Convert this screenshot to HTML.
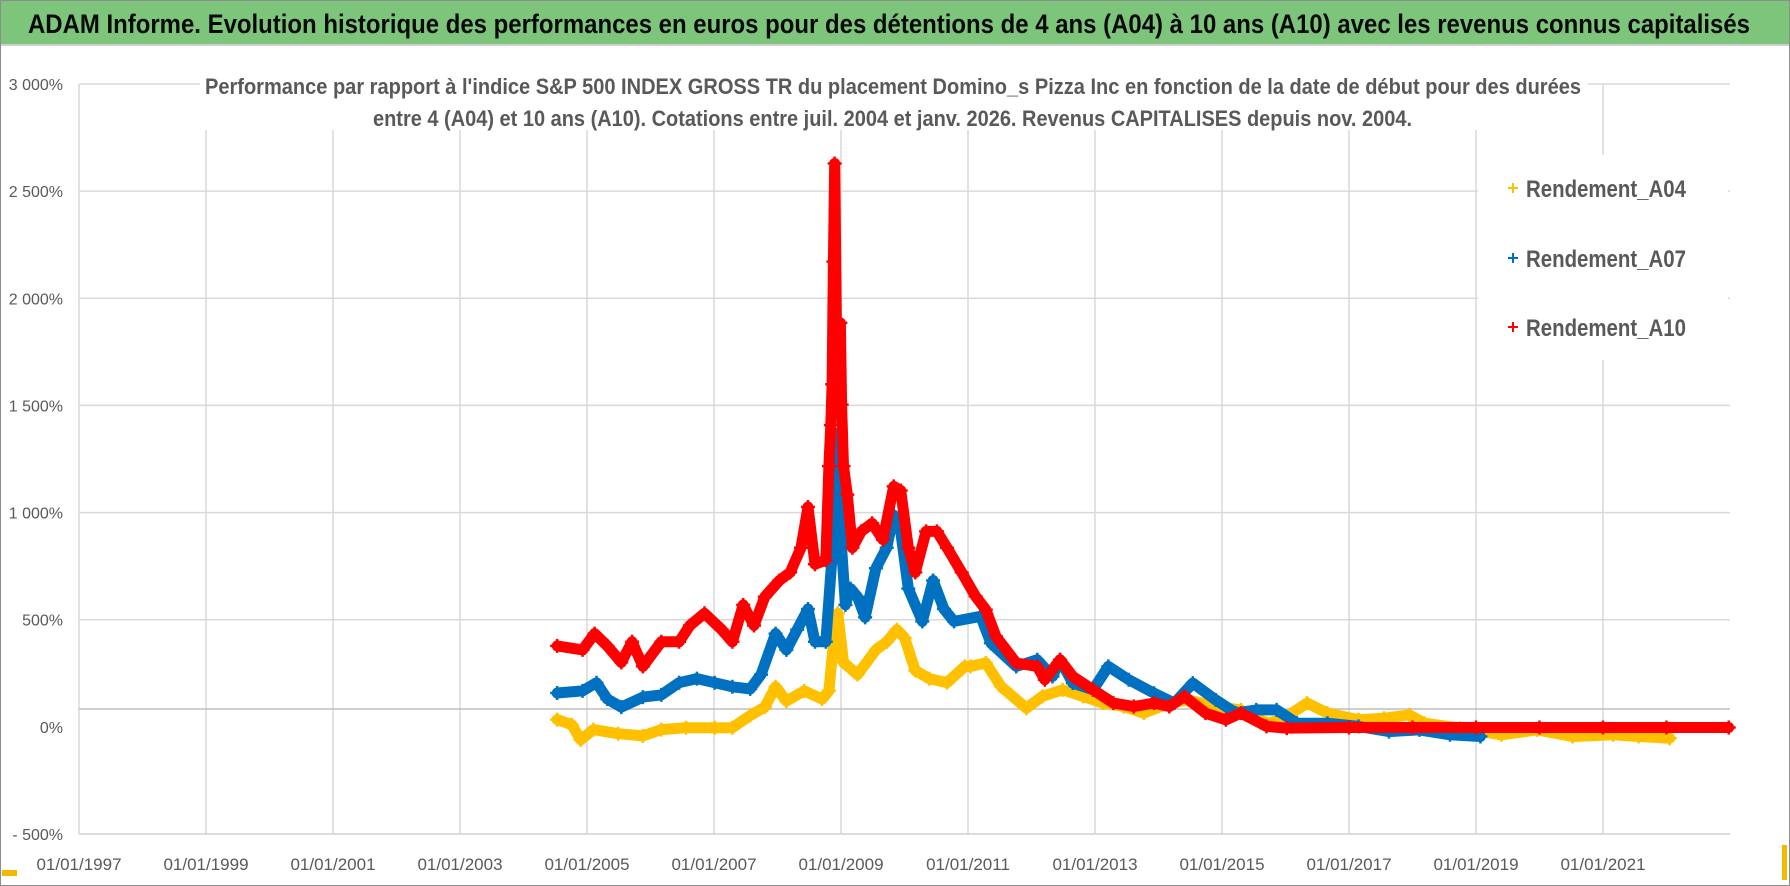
<!DOCTYPE html>
<html><head><meta charset="utf-8">
<style>
html,body{margin:0;padding:0;background:#fff;}
svg{display:block;font-family:"Liberation Sans",sans-serif;}
</style></head>
<body>
<svg id="chart" width="1790" height="886" viewBox="0 0 1790 886" xmlns="http://www.w3.org/2000/svg">
  <rect x="0.5" y="0.5" width="1789" height="885" fill="#fff" stroke="#8c8c8c"/>
  <rect x="1" y="1" width="1788" height="43" fill="#7dc57b"/>
  <line x1="1" y1="45" x2="1789" y2="45" stroke="#d0d0d0" stroke-width="2"/>
  <text x="28" y="33" font-size="27" font-weight="bold" fill="#0a0a0a" textLength="1722" lengthAdjust="spacingAndGlyphs">ADAM Informe. Evolution historique des performances en euros pour des détentions de 4 ans (A04) à 10 ans (A10) avec les revenus connus capitalisés</text>
  <rect x="2" y="870" width="15" height="6" fill="#f4b800"/>
  <rect x="1782" y="845" width="5" height="35" fill="#f4b800"/>
  <g id="grid"></g>
  <g id="axes"></g>
  <g id="series"></g>
  <rect x="200" y="70" width="1388" height="60" fill="#fff"/>
  <text x="205" y="94" font-size="22" font-weight="bold" fill="#595959" textLength="1376" lengthAdjust="spacingAndGlyphs">Performance par rapport à l'indice S&amp;P 500 INDEX GROSS TR  du placement Domino_s Pizza Inc en fonction de la date de début pour des durées</text>
  <text x="373" y="126" font-size="22" font-weight="bold" fill="#595959" textLength="1039" lengthAdjust="spacingAndGlyphs">entre 4 (A04) et 10 ans (A10).  Cotations entre juil. 2004 et janv. 2026. Revenus CAPITALISES depuis nov. 2004.</text>
  <g id="legend"></g>
</svg>
<script>
const yearsA04 = [2004.53,2004.76,2004.90,2005.10,2005.49,2005.88,2006.17,2006.56,2007.01,2007.29,2007.57,2007.80,2007.97,2008.14,2008.42,2008.70,2008.81,2008.90,2008.95,2009.04,2009.26,2009.55,2009.72,2009.88,2010.00,2010.17,2010.39,2010.67,2010.95,2011.04,2011.28,2011.52,2011.92,2012.17,2012.49,2012.81,2013.13,2013.45,2013.77,2014.17,2014.47,2014.90,2015.30,2015.70,2015.94,2016.34,2016.66,2017.15,2017.55,2017.95,2018.19,2018.75,2019.40,2019.96,2020.52,2021.16,2021.56,2022.05];
const valuesA04 = [34,10,-61,-13,-32,-42,-13,-4,-4,-4,53,92,187,120,168,130,168,454,530,301,244,359,397,454,416,263,225,206,282,282,298,189,87,142,173,142,111,95,64,111,126,95,79,17,33,111,64,33,40,56,17,-6,-37,-14,-45,-37,-45,-53];
const yearsA07 = [2004.53,2004.93,2005.15,2005.32,2005.54,2005.88,2006.17,2006.45,2006.73,2007.01,2007.29,2007.57,2007.74,2007.97,2008.14,2008.31,2008.48,2008.59,2008.76,2008.87,2008.90,2008.95,2009.01,2009.07,2009.15,2009.26,2009.38,2009.55,2009.72,2009.83,2009.94,2010.06,2010.28,2010.45,2010.62,2010.78,2011.20,2011.36,2011.76,2012.09,2012.33,2012.45,2012.65,2012.97,2013.21,2013.53,2013.93,2014.25,2014.54,2014.90,2015.22,2015.54,2015.86,2016.18,2016.66,2017.15,2017.63,2018.11,2018.59,2019.07];
const valuesA07 = [158,168,206,130,92,139,149,206,225,206,187,177,244,435,359,454,550,397,397,836,1370,1026,836,569,645,607,511,740,836,988,912,645,492,683,550,492,516,391,282,313,235,313,204,173,282,220,157,111,204,126,64,79,79,17,17,2,-22,-14,-37,-45];
const yearsA10 = [2004.53,2004.93,2005.12,2005.32,2005.54,2005.71,2005.88,2006.17,2006.45,2006.62,2006.85,2007.12,2007.29,2007.46,2007.63,2007.80,2008.03,2008.20,2008.37,2008.48,2008.59,2008.76,2008.81,2008.84,2008.86,2008.88,2008.90,2008.93,2008.99,2009.01,2009.04,2009.10,2009.18,2009.32,2009.49,2009.66,2009.83,2009.94,2010.06,2010.17,2010.34,2010.51,2010.67,2010.90,2011.12,2011.28,2011.44,2011.76,2012.09,2012.21,2012.45,2012.65,2012.97,2013.29,2013.61,2013.93,2014.17,2014.41,2014.74,2015.06,2015.30,2015.70,2016.02,2017.0,2018.0,2019.0,2020.0,2021.0,2022.0,2022.98];
const valuesA10 = [378,359,435,378,301,397,282,397,397,473,530,454,397,569,473,607,683,721,836,1026,759,778,1217,1408,1599,2171,2629,1790,1885,1504,1217,1084,836,912,950,874,1122,1103,836,721,912,912,836,721,609,547,422,298,282,220,313,235,173,111,95,111,95,142,64,33,64,2,-6,-3,-3,-3,-3,-3,-3,-3];
const yTicks = [3000,2500,2000,1500,1000,500,0,-500];
const yTickLabels = ["3 000%","2 500%","2 000%","1 500%","1 000%","500%","0%","- 500%"];
const xTicks = [1997,1999,2001,2003,2005,2007,2009,2011,2013,2015,2017,2019,2021];
const xTickLabels = ["01/01/1997","01/01/1999","01/01/2001","01/01/2003","01/01/2005","01/01/2007","01/01/2009","01/01/2011","01/01/2013","01/01/2015","01/01/2017","01/01/2019","01/01/2021"];
const seriesNames = ["Rendement_A04","Rendement_A07","Rendement_A10"];

const NS = "http://www.w3.org/2000/svg";
const X0 = 79, X1 = 1730, XMIN = 1997, XMAX = 2023;
const Y0 = 834, Y1 = 84, VMIN = -500, VMAX = 3000;
function xs(yr){ return X0 + (yr - XMIN) / (XMAX - XMIN) * (X1 - X0); }
function ys(v){ return Y0 - (v - VMIN) / (VMAX - VMIN) * (Y0 - Y1); }
function mk(tag, attrs, parent){ const e = document.createElementNS(NS, tag); for (const k in attrs) e.setAttribute(k, attrs[k]); parent.appendChild(e); return e; }

const grid = document.getElementById('grid');
const axes = document.getElementById('axes');
yTicks.forEach((v, i) => {
  if (v > 0) {
    const g = mk('line', {x1: X0, x2: X1, y1: ys(v), y2: ys(v), stroke: '#d9d9d9', 'stroke-width': 1.5}, grid);
    
    
  }
  const t = mk('text', {x: 63, y: ys(v) + 6, 'text-anchor': 'end', 'font-size': 16, fill: '#595959'}, axes);
  t.textContent = yTickLabels[i];
  
  
});
xTicks.forEach((yr, i) => {
  const g = mk('line', {x1: xs(yr), x2: xs(yr), y1: Y1, y2: Y0, stroke: '#d9d9d9', 'stroke-width': 1.5}, grid);
  
  
  const t = mk('text', {x: xs(yr), y: 870, 'text-anchor': 'middle', 'font-size': 17, fill: '#595959'}, axes);
  t.textContent = xTickLabels[i];
  
  
});
const bl = mk('line', {x1: X0, x2: X1, y1: Y0, y2: Y0, stroke: '#d0d0d0', 'stroke-width': 1.5}, axes);


const ax = mk('line', {x1: X0, x2: X1, y1: 709, y2: 709, stroke: '#bfbfbf', 'stroke-width': 1.5}, axes);



const seriesDefs = [[yearsA04, valuesA04, '#ffc000'], [yearsA07, valuesA07, '#0070c0'], [yearsA10, valuesA10, '#ff0000']];
const layer = document.getElementById('series');
seriesDefs.forEach((s, si) => {
  const g = mk('g', {}, layer);
  
  
  const pts = s[0].map((yr, i) => xs(yr).toFixed(1) + ',' + ys(s[1][i]).toFixed(1)).join(' ');
  const pl = mk('polyline', {points: pts, fill: 'none', stroke: s[2], 'stroke-width': 11, 'stroke-linejoin': 'round', 'stroke-linecap': 'round'}, g);
  
  
  s[0].forEach((yr, i) => {
    const cx = xs(yr), cy = ys(s[1][i]);
    const p = mk('path', {d: `M${cx-7},${cy}H${cx+7}M${cx},${cy-7}V${cy+7}`, stroke: s[2], 'stroke-width': 2.5}, g);
    
    
  });
});

const legend = document.getElementById('legend');
mk('rect', {x: 1478, y: 155, width: 250, height: 205, fill: '#fff'}, legend);
const legendY = [188, 258, 327];
seriesDefs.forEach((s, i) => {
  const y = legendY[i];
  const m = mk('path', {d: `M${1508},${y}H${1518}M${1513},${y-5}V${y+5}`, stroke: s[2], 'stroke-width': 2}, legend);
  
  
  const t = mk('text', {x: 1526, y: y + 9, 'font-size': 24, 'font-weight': 'bold', fill: '#595959', textLength: 160, lengthAdjust: 'spacingAndGlyphs'}, legend);
  t.textContent = seriesNames[i];
  
  
});
</script>
</body></html>
